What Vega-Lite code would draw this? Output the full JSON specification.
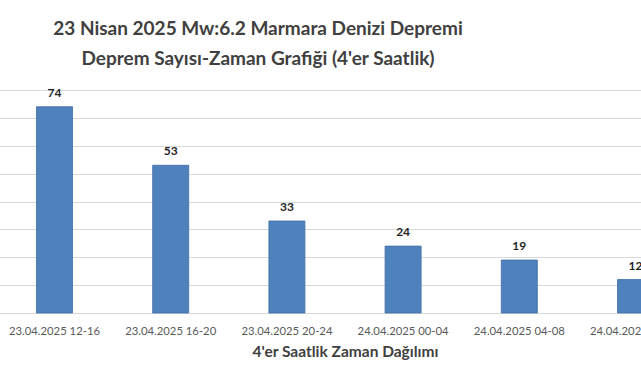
{
  "$schema": "https://vega.github.io/schema/vega-lite/v6.json",
  "width": 700,
  "height": 223,
  "autosize": {"type": "none"},
  "padding": {"left": -5, "top": 90, "right": -54, "bottom": 67},
  "background": "white",
  "title": {
    "text": ["23 Nisan 2025 Mw:6.2 Marmara Denizi Depremi", "Deprem Sayısı-Zaman Grafiği (4'er Saatlik)"],
    "font": "Lato",
    "fontSize": 19,
    "fontWeight": "bold",
    "color": "#404040",
    "lineHeight": 30,
    "dx": -87,
    "offset": 18,
    "anchor": "middle",
    "frame": "group"
  },
  "data": {
    "values": [
      {"zaman": "23.04.2025 12-16", "sayi": 74},
      {"zaman": "23.04.2025 16-20", "sayi": 53},
      {"zaman": "23.04.2025 20-24", "sayi": 33},
      {"zaman": "24.04.2025 00-04", "sayi": 24},
      {"zaman": "24.04.2025 04-08", "sayi": 19},
      {"zaman": "24.04.2025 08-12", "sayi": 12}
    ]
  },
  "config": {"view": {"stroke": null}},
  "encoding": {
    "x": {
      "field": "zaman",
      "type": "nominal",
      "sort": null,
      "scale": {"paddingInner": 0.69, "paddingOuter": 0.357},
      "axis": {
        "title": "4'er Saatlik Zaman Dağılımı",
        "labelAngle": 0,
        "labelFont": "Lato",
        "labelFontSize": 11.3,
        "labelColor": "#595959",
        "labelPadding": 12,
        "ticks": false,
        "domainColor": "#D9D9D9",
        "domainWidth": 1,
        "titleFont": "Lato",
        "titleFontSize": 15.5,
        "titleFontWeight": "bold",
        "titleColor": "#404040",
        "titlePadding": 8
      }
    },
    "y": {
      "field": "sayi",
      "type": "quantitative",
      "scale": {"domain": [0, 80], "nice": false},
      "axis": {
        "title": null,
        "labels": false,
        "ticks": false,
        "domain": false,
        "values": [10, 20, 30, 40, 50, 60, 70, 80],
        "gridColor": "#D9D9D9",
        "gridWidth": 1
      }
    }
  },
  "layer": [
    {
      "mark": {"type": "bar", "color": "#4F81BD", "stroke": "#3F6FA8", "strokeWidth": 0.8}
    },
    {
      "mark": {"type": "text", "baseline": "bottom", "dy": -7, "font": "Lato", "fontSize": 12, "fontWeight": "bold", "color": "#1F1F1F"},
      "encoding": {"text": {"field": "sayi", "type": "quantitative"}}
    }
  ]
}
